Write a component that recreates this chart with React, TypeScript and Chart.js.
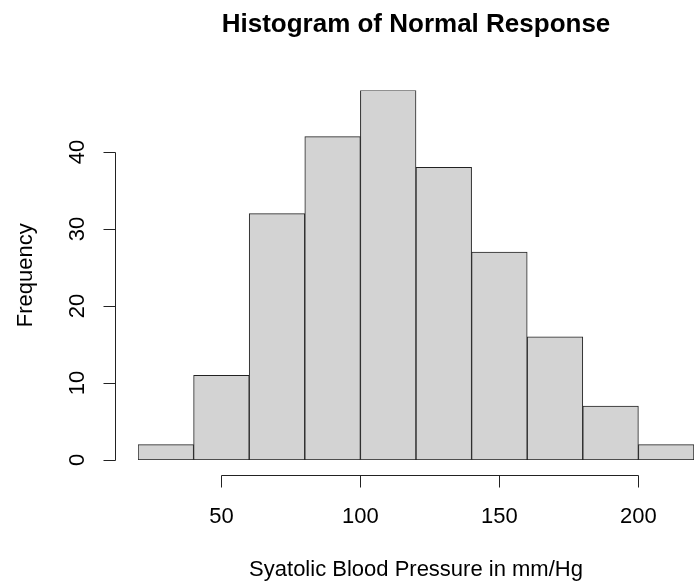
import React, { useEffect, useRef } from "react";
import { Chart, registerables } from "chart.js";

Chart.register(...registerables);

const binStarts = [20, 40, 60, 80, 100, 120, 140, 160, 180, 200];
const binWidth = 20;
const frequencies = [2, 11, 32, 42, 48, 38, 27, 16, 7, 2];
const xTickValues = [50, 100, 150, 200];
const yTickValues = [0, 10, 20, 30, 40];
const titleText = "Histogram of Normal Response";
const xLabel = "Syatolic Blood Pressure in mm/Hg";
const yLabel = "Frequency";

const FONT = "'Liberation Sans', Arial, sans-serif";

const rAxesPlugin = {
  id: "rAxes",
  afterDraw(chart: any) {
    const ctx = chart.ctx as CanvasRenderingContext2D;
    const xs = chart.scales.x;
    const ys = chart.scales.y;
    const area = chart.chartArea;
    ctx.save();
    ctx.strokeStyle = "#222";
    ctx.lineWidth = 1;
    ctx.fillStyle = "#000";

    // x axis
    const axisY = 475.5;
    const x0 = Math.round(xs.getPixelForValue(xTickValues[0])) + 0.5;
    const x1 = Math.round(xs.getPixelForValue(xTickValues[xTickValues.length - 1])) + 0.5;
    ctx.beginPath();
    ctx.moveTo(x0, axisY);
    ctx.lineTo(x1, axisY);
    for (const v of xTickValues) {
      const px = Math.round(xs.getPixelForValue(v)) + 0.5;
      ctx.moveTo(px, axisY);
      ctx.lineTo(px, axisY + 12);
    }
    ctx.stroke();
    ctx.font = `22px ${FONT}`;
    ctx.textAlign = "center";
    ctx.textBaseline = "alphabetic";
    for (const v of xTickValues) {
      ctx.fillText(String(v), xs.getPixelForValue(v), 522.5);
    }

    // y axis
    const axisX = 115.5;
    const y0 = Math.round(ys.getPixelForValue(yTickValues[0])) + 0.5;
    const y1 = Math.round(ys.getPixelForValue(yTickValues[yTickValues.length - 1])) + 0.5;
    ctx.beginPath();
    ctx.moveTo(axisX, y0);
    ctx.lineTo(axisX, y1);
    for (const v of yTickValues) {
      const py = Math.round(ys.getPixelForValue(v)) + 0.5;
      ctx.moveTo(axisX, py);
      ctx.lineTo(axisX - 12, py);
    }
    ctx.stroke();
    for (const v of yTickValues) {
      ctx.save();
      ctx.translate(84, ys.getPixelForValue(v));
      ctx.rotate(-Math.PI / 2);
      ctx.fillText(String(v), 0, 0);
      ctx.restore();
    }

    // title
    const cx = (area.left + area.right) / 2;
    ctx.font = `bold 26px ${FONT}`;
    ctx.fillText(titleText, cx, 32);

    // x label
    ctx.font = `22px ${FONT}`;
    ctx.fillText(xLabel, cx, 576);

    // y label
    ctx.save();
    ctx.translate(31.5, (area.top + area.bottom) / 2);
    ctx.rotate(-Math.PI / 2);
    ctx.fillText(yLabel, 0, 0);
    ctx.restore();

    ctx.restore();
  },
};

export default function App() {
  const canvasRef = useRef<HTMLCanvasElement | null>(null);

  useEffect(() => {
    const canvas = canvasRef.current;
    if (!canvas) return;
    const data = binStarts.map((s, i) => ({ x: s + binWidth / 2, y: frequencies[i] }));
    const chart = new Chart(canvas, {
      type: "bar",
      data: {
        datasets: [
          {
            data: data as any,
            backgroundColor: "#D3D3D3",
            borderColor: "#222",
            borderWidth: 1,
            borderSkipped: false,
            barPercentage: 1,
            categoryPercentage: 1,
          },
        ],
      },
      options: {
        responsive: false,
        animation: false,
        layout: { padding: { left: 138, right: 0, top: 90.4, bottom: 123 } },
        plugins: { legend: { display: false }, tooltip: { enabled: false }, title: { display: false } },
        scales: {
          x: { type: "linear", min: 20, max: 220, display: false, offset: false },
          y: { type: "linear", min: 0, max: 48, display: false },
        },
      },
      plugins: [rAxesPlugin],
    });
    return () => chart.destroy();
  }, []);

  return (
    <canvas
      ref={canvasRef}
      width={694}
      height={583}
      style={{ position: "absolute", left: 0, top: 0, width: 694, height: 583, display: "block", background: "#fff" }}
    />
  );
}
